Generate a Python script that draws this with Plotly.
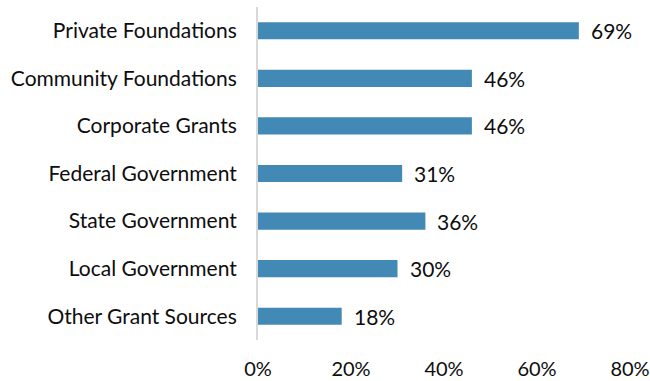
import plotly.graph_objects as go

# Grant funding sources and share of respondents receiving each
sources = [
    "Private Foundations",
    "Community Foundations",
    "Corporate Grants",
    "Federal Government",
    "State Government",
    "Local Government",
    "Other Grant Sources",
]
shares = [69, 46, 46, 31, 36, 30, 18]
tick_values = [0, 20, 40, 60, 80]
tick_labels = ["0%", "20%", "40%", "60%", "80%"]

FONT = "Lato"
SIZE = 21
TEXT_COLOR = "#0d0d0d"
BAR_COLOR = "#4389b5"

fig = go.Figure(
    go.Bar(
        x=shares,
        y=sources,
        orientation="h",
        marker=dict(color=BAR_COLOR, line=dict(width=0)),
        hoverinfo="skip",
    )
)

# Value labels to the right of each bar
for src, val in zip(sources, shares):
    fig.add_annotation(
        x=val, y=src, text=f"{val}%", showarrow=False,
        xanchor="left", yanchor="middle", xshift=10,
        font=dict(family=FONT, size=SIZE, color=TEXT_COLOR),
    )

fig.update_layout(
    width=650, height=381,
    margin=dict(l=258, r=20, t=7, b=41, autoexpand=False),
    paper_bgcolor="white", plot_bgcolor="white",
    bargap=0.64,
    showlegend=False,
    font=dict(family=FONT, size=SIZE, color=TEXT_COLOR),
)
fig.update_xaxes(
    range=[0, 80], tickvals=tick_values, ticktext=tick_labels,
    showgrid=False, zeroline=False, showline=False, ticks="",
    ticklabelstandoff=15, automargin=False,
    tickfont=dict(family=FONT, size=20, color=TEXT_COLOR),
)
fig.update_yaxes(
    autorange="reversed", showgrid=False, zeroline=False,
    showline=True, linecolor="#d9d9d9", linewidth=2, ticks="",
    ticklabelstandoff=15, automargin=False,
    tickfont=dict(family=FONT, size=SIZE, color=TEXT_COLOR),
)

fig.write_html("out.html")
